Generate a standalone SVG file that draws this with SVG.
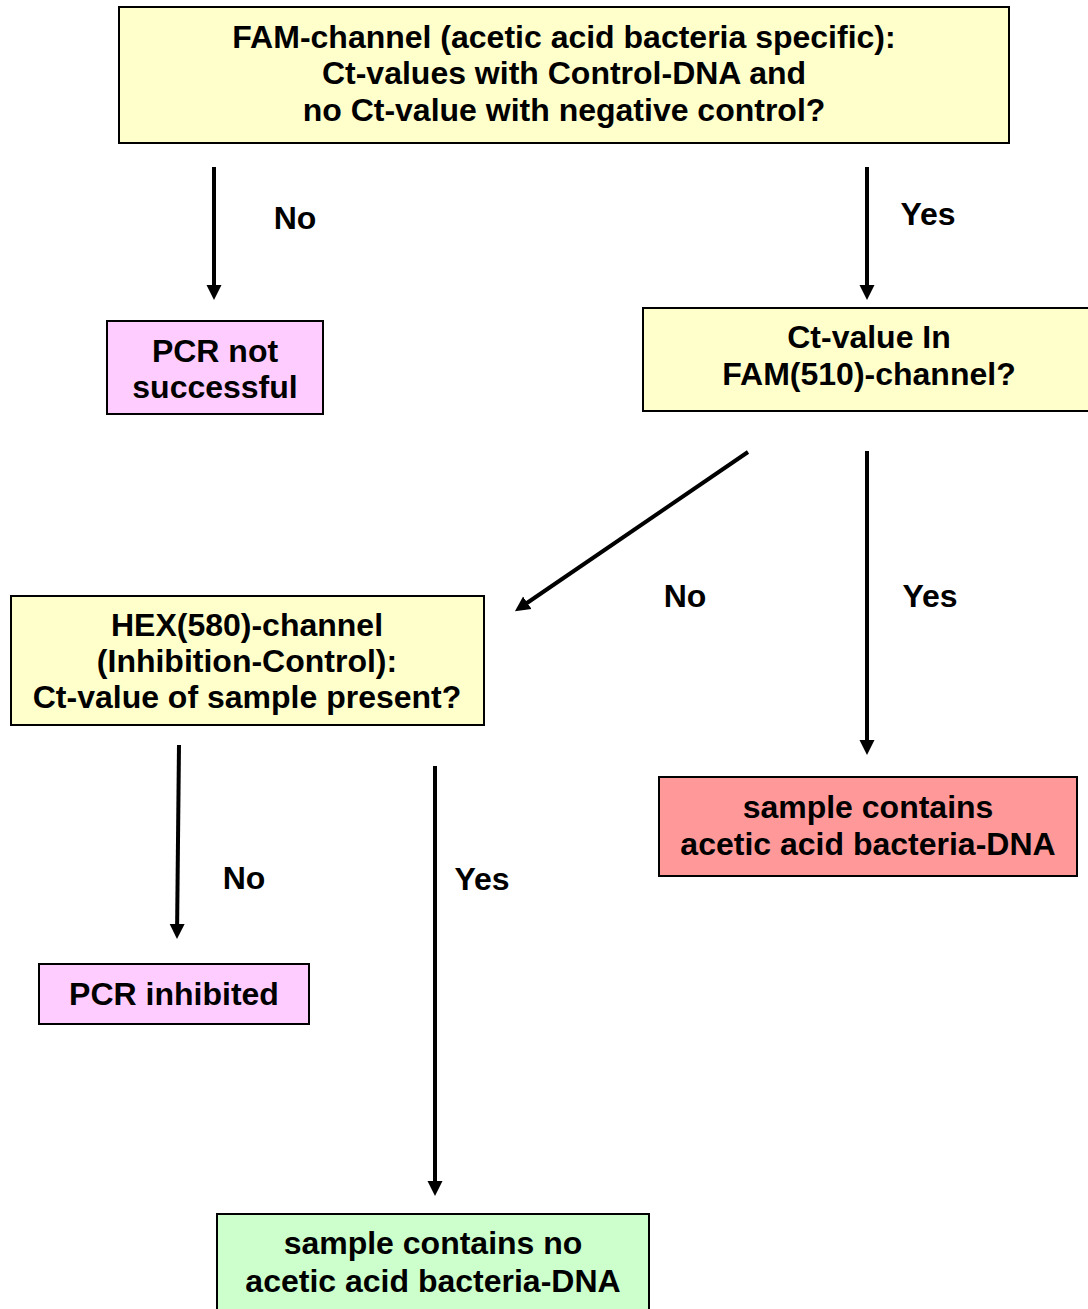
<svg xmlns="http://www.w3.org/2000/svg" width="1088" height="1309" viewBox="0 0 1088 1309">
<style>
.box{stroke:#000;stroke-width:2}
.y{fill:#FFFFCC}.p{fill:#FFCCFF}.r{fill:#FF9999}.g{fill:#CCFFCC}
text{font-family:"Liberation Sans",Arial,sans-serif;font-weight:bold;font-size:32px;fill:#000;text-anchor:middle}
.c{stroke:#000;stroke-width:4;fill:none;marker-end:url(#ah)}
</style>
<defs>
<marker id="ah" markerUnits="userSpaceOnUse" markerWidth="16" markerHeight="16" refX="4" refY="8" orient="auto">
<path d="M0,0.5 L15,8 L0,15.5 z" fill="#000"/>
</marker>
</defs>
<rect width="1088" height="1309" fill="#fff"/>
<g id="connectors">
<line class="c" x1="214" y1="167" x2="214" y2="289"/>
<line class="c" x1="867" y1="167" x2="867" y2="289"/>
<line class="c" x1="748" y1="452" x2="524" y2="605"/>
<line class="c" x1="867" y1="451" x2="867" y2="744"/>
<line class="c" x1="179" y1="745" x2="177.1" y2="928"/>
<line class="c" x1="435" y1="766" x2="435" y2="1185"/>
<text x="295" y="229">No</text>
<text x="928" y="225">Yes</text>
<text x="685" y="607">No</text>
<text x="930" y="607">Yes</text>
<text x="244" y="889">No</text>
<text x="482" y="890">Yes</text>
</g>
<g id="n1">
<rect class="box y" x="119" y="7" width="890" height="136"/>
<text x="564" y="48">FAM-channel (acetic acid bacteria specific):</text>
<text x="564" y="84">Ct-values with Control-DNA and</text>
<text x="564" y="120.5">no Ct-value with negative control?</text>
</g>
<g id="n2">
<rect class="box p" x="107" y="321" width="216" height="93"/>
<text x="215" y="362">PCR not</text>
<text x="215" y="398">successful</text>
</g>
<g id="n3">
<rect class="box y" x="643" y="308" width="448" height="103"/>
<text x="869" y="348">Ct-value In</text>
<text x="869" y="385">FAM(510)-channel?</text>
</g>
<g id="n4">
<rect class="box y" x="11" y="596" width="473" height="129"/>
<text x="247" y="636">HEX(580)-channel</text>
<text x="247" y="672">(Inhibition-Control):</text>
<text x="247" y="708">Ct-value of sample present?</text>
</g>
<g id="n5">
<rect class="box r" x="659" y="777" width="418" height="99"/>
<text x="868" y="818">sample contains</text>
<text x="868" y="855">acetic acid bacteria-DNA</text>
</g>
<g id="n6">
<rect class="box p" x="39" y="964" width="270" height="60"/>
<text x="174" y="1005">PCR inhibited</text>
</g>
<g id="n7">
<rect class="box g" x="217" y="1214" width="432" height="100"/>
<text x="433" y="1254">sample contains no</text>
<text x="433" y="1292">acetic acid bacteria-DNA</text>
</g>
</svg>
